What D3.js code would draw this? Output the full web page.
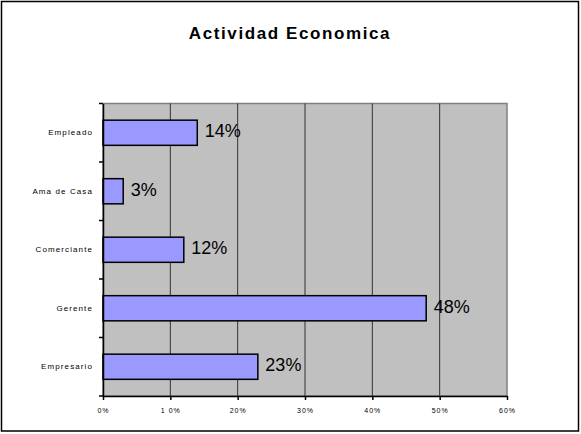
<!DOCTYPE html>
<html>
<head>
<meta charset="utf-8">
<script src="https://cdn.jsdelivr.net/npm/d3@7"></script>
<style>
  html, body { margin: 0; padding: 0; background: #fff; }
  svg { display: block; font-family: Arial, "Liberation Sans", sans-serif; }
</style>
</head>
<body>
<svg id="chart" width="581" height="434"></svg>
<script>
// Occupation categories (top to bottom) and their shares in percent
const categories = ["Empleado", "Ama de Casa", "Comerciante", "Gerente", "Empresario"];
const values = [14, 3, 12, 48, 23];
const xTicks = [0, 10, 20, 30, 40, 50, 60];
const xTickLabels = ["0%", "1 0%", "20%", "30%", "40%", "50%", "60%"];
const title = "Actividad Economica";

const svg = d3.select("#chart");
const W = 581, H = 434;
const plot = { left: 103, right: 507, top: 103.5, bottom: 396 };

// Outer frame
svg.append("rect")
  .attr("x", 1.5).attr("y", 1.5)
  .attr("width", W - 4).attr("height", H - 4.5)
  .attr("fill", "#fff").attr("stroke", "#000").attr("stroke-width", 1.5);

// Title
svg.append("text")
  .attr("x", 290).attr("y", 38.5)
  .attr("text-anchor", "middle")
  .attr("font-weight", "bold")
  .attr("font-size", 17)
  .attr("letter-spacing", "1.6px")
  .text(title);

const x = d3.scaleLinear().domain([0, 60]).range([plot.left, plot.right]);
const y = d3.scaleBand().domain(categories)
  .range([plot.top, plot.bottom])
  .paddingInner(0.57).paddingOuter(0.285);

// Plot background
svg.append("rect")
  .attr("x", plot.left).attr("y", plot.top)
  .attr("width", plot.right - plot.left).attr("height", plot.bottom - plot.top)
  .attr("fill", "#c0c0c0")
  .attr("stroke", "#808080").attr("stroke-width", 1.5);

// Vertical gridlines
svg.append("g").selectAll("line")
  .data(xTicks.filter(t => t > 0 && t < 60))
  .join("line")
  .attr("x1", d => x(d)).attr("x2", d => x(d))
  .attr("y1", plot.top).attr("y2", plot.bottom)
  .attr("stroke", "#333").attr("stroke-width", 1);

// Bars
svg.append("g").selectAll("rect")
  .data(categories)
  .join("rect")
  .attr("x", x(0))
  .attr("y", d => y(d))
  .attr("width", (d, i) => x(values[i]) - x(0))
  .attr("height", y.bandwidth())
  .attr("fill", "#9999ff")
  .attr("stroke", "#000").attr("stroke-width", 1.5);

// Value labels
svg.append("g").selectAll("text")
  .data(categories)
  .join("text")
  .attr("x", (d, i) => x(values[i]) + 7.5)
  .attr("y", d => y(d) + y.bandwidth() / 2 + 4.5)
  .attr("font-size", 18)
  .attr("fill", "#000")
  .text((d, i) => values[i] + "%");

// Left axis
const yAxis = d3.axisLeft(y).tickSize(0).tickPadding(10);
const gy = svg.append("g").attr("transform", `translate(${plot.left},0)`).call(yAxis);
gy.select(".domain").attr("stroke", "#000").attr("stroke-width", 1.5);
gy.selectAll("text")
  .attr("font-size", 8)
  .attr("letter-spacing", "1.1px")
  .attr("font-family", "Arial, 'Liberation Sans', sans-serif")
  .attr("fill", "#000");
// Category separator ticks on the left axis
const sepTicks = [plot.top, ...categories.map(c => y(c) + y.bandwidth() + y.step() * y.paddingInner() / 2)];
sepTicks[sepTicks.length - 1] = plot.bottom;
svg.append("g").selectAll("line")
  .data(sepTicks)
  .join("line")
  .attr("x1", plot.left - 4).attr("x2", plot.left)
  .attr("y1", d => d).attr("y2", d => d)
  .attr("stroke", "#000").attr("stroke-width", 1.5);

// Bottom axis
const xAxis = d3.axisBottom(x).tickValues(xTicks)
  .tickFormat((d, i) => xTickLabels[i])
  .tickSize(4).tickSizeOuter(0).tickPadding(8);
const gx = svg.append("g").attr("transform", `translate(0,${plot.bottom})`).call(xAxis);
gx.select(".domain").attr("stroke", "#000").attr("stroke-width", 1.5);
gx.selectAll(".tick line").attr("stroke", "#000").attr("stroke-width", 1.5);
gx.selectAll("text")
  .attr("font-size", 7)
  .attr("letter-spacing", "1px")
  .attr("font-family", "Arial, 'Liberation Sans', sans-serif")
  .attr("fill", "#000");
</script>
</body>
</html>
